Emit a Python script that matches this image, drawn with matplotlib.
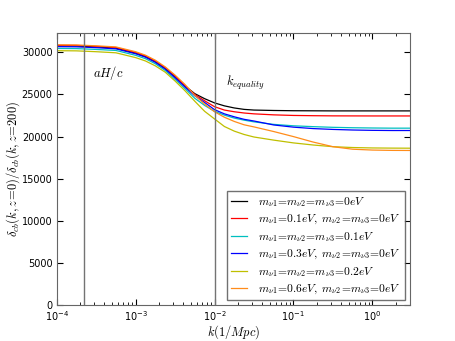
import numpy as np
import matplotlib
matplotlib.use('Agg')
import matplotlib.pyplot as plt

plt.rcParams['mathtext.fontset'] = 'cm'
plt.rcParams['xtick.direction'] = 'in'
plt.rcParams['ytick.direction'] = 'in'
plt.rcParams['xtick.top'] = True
plt.rcParams['ytick.right'] = True

# log10(k) sample points
logk = [-4, -3.75, -3.5, -3.25, -3, -2.875, -2.75, -2.625, -2.5, -2.375, -2.25,
        -2.125, -2, -1.875, -1.75, -1.625, -1.5, -1.25, -1, -0.75, -0.5, -0.25,
        0, 0.25, 0.48]

ratio_0 = [30780, 30760, 30650, 30500, 29900, 29500, 28900, 28100, 27100, 26010,
           25100, 24500, 24000, 23650, 23400, 23230, 23150, 23100, 23070, 23060,
           23050, 23050, 23050, 23050, 23050]
ratio_01_single = [30850, 30830, 30720, 30570, 29990, 29580, 28970, 28180, 27180,
                   26050, 25000, 24250, 23550, 23150, 22950, 22800, 22700, 22580,
                   22510, 22480, 22460, 22455, 22450, 22450, 22450]
ratio_01_all = [30470, 30450, 30350, 30230, 29650, 29250, 28650, 27850, 26800,
                25700, 24550, 23700, 23000, 22550, 22200, 21950, 21750, 21450,
                21280, 21180, 21100, 21050, 21020, 21000, 21000]
ratio_03_single = [30680, 30660, 30560, 30420, 29840, 29430, 28820, 28020, 27000,
                   25900, 24850, 24050, 23200, 22700, 22350, 22050, 21850, 21380,
                   21120, 20950, 20850, 20780, 20740, 20720, 20720]
ratio_02_all = [30200, 30180, 30080, 29950, 29380, 28980, 28400, 27650, 26600,
                25450, 24200, 23000, 22100, 21200, 20650, 20250, 19950, 19580,
                19250, 19000, 18800, 18700, 18650, 18630, 18620]
ratio_06_single = [30900, 30880, 30780, 30650, 30080, 29670, 29070, 28280, 27300,
                   26200, 24900, 23850, 22950, 22300, 21800, 21400, 21150, 20600,
                   20000, 19350, 18800, 18500, 18400, 18360, 18350]

k_aH = 2.24e-4
k_eq = 0.0102

labels = [
    r'$m_{\nu1}\!=\!m_{\nu2}\!=\!m_{\nu3}\!=\!0eV$',
    r'$m_{\nu1}\!=\!0.1eV,\ m_{\nu2}\!=\!m_{\nu3}\!=\!0eV$',
    r'$m_{\nu1}\!=\!m_{\nu2}\!=\!m_{\nu3}\!=\!0.1eV$',
    r'$m_{\nu1}\!=\!0.3eV,\ m_{\nu2}\!=\!m_{\nu3}\!=\!0eV$',
    r'$m_{\nu1}\!=\!m_{\nu2}\!=\!m_{\nu3}\!=\!0.2eV$',
    r'$m_{\nu1}\!=\!0.6eV,\ m_{\nu2}\!=\!m_{\nu3}\!=\!0eV$',
]
series = [ratio_0, ratio_01_single, ratio_01_all, ratio_03_single, ratio_02_all, ratio_06_single]
colors = ['k', 'r', 'c', 'b', 'y', '#ff8c1a']

fig = plt.figure(figsize=(4.55, 3.41), dpi=100)
ax = fig.add_axes([0.1246, 0.1056, 0.7764, 0.7976])

k = 10.0 ** np.array(logk)
for y, c, lab in zip(series, colors, labels):
    ax.plot(k, y, color=c, lw=0.9, label=lab)

ax.axvline(k_aH, color='0.45', lw=1)
ax.axvline(k_eq, color='0.45', lw=1)
ax.text(2.9e-4, 27500, r'$aH/c$', fontsize=9, va='center')
ax.text(0.0138, 26400, r'$k_{equality}$', fontsize=9, va='center')

ax.set_xscale('log')
ax.set_xlim(1e-4, 3.0)
ax.set_ylim(0, 32300)
ax.set_yticks([0, 5000, 10000, 15000, 20000, 25000, 30000])
ax.tick_params(labelsize=7, length=4, pad=3)
ax.tick_params(which='minor', length=2)
for s in ax.spines.values():
    s.set_color('0.4')

ax.set_xlabel(r'$k(1/Mpc)$', fontsize=9, labelpad=0)
ax.set_ylabel(r'$\delta_{cb}(k,z\!=\!0)/\delta_{cb}(k,z\!=\!200)$', fontsize=9)
ax.yaxis.set_label_coords(-0.098, 0.5)

leg = ax.legend(loc='lower right', fontsize=8.3, fancybox=False, handlelength=1.4,
                handletextpad=1.0, labelspacing=0.3, borderpad=0.35,
                borderaxespad=0.4)
leg.get_frame().set_edgecolor('0.3')

fig.savefig('out.png', dpi=100)
